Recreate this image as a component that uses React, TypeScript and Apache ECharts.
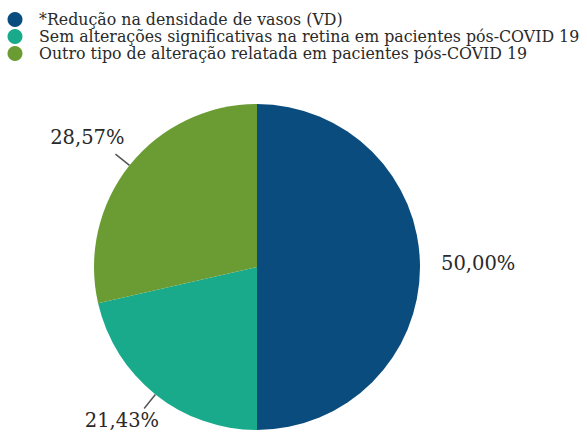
import React, { useEffect, useRef } from "react";
import * as echarts from "echarts";

const categories = [
  "*Redução na densidade de vasos (VD)",
  "Sem alterações significativas na retina em pacientes pós-COVID 19",
  "Outro tipo de alteração relatada em pacientes pós-COVID 19",
];
const values = [50.0, 21.43, 28.57];
const labels = ["50,00%", "21,43%", "28,57%"];
const colors = ["#0b4c7f", "#19a98b", "#6a9c33"];

// per-label layout tweaks (style only): spacer above / below text, gap to line end
const labelStyle = [
  { line: false, distance: 3, above: 0, below: 8 },
  { line: true, distance: -15, above: 24, below: 0 },
  { line: true, distance: -9, above: 0, below: 34 },
];

export default function App() {
  const ref = useRef<HTMLDivElement>(null);
  useEffect(() => {
    document.body.style.margin = "0";
    const chart = echarts.init(ref.current!, null, { renderer: "svg" });
    const font = "DejaVu Serif";
    const fmt = (i: number) => {
      const s = labelStyle[i];
      let out = "{t|" + labels[i] + "}";
      if (s.above) out = "{a| }\n" + out;
      if (s.below) out = out + "\n{b| }";
      return out;
    };
    chart.setOption({
      animation: false,
      backgroundColor: "#ffffff",
      color: colors,
      legend: {
        orient: "vertical",
        left: 7.5,
        top: 11.5,
        padding: 0,
        icon: "circle",
        itemWidth: 15,
        itemHeight: 15,
        itemGap: 1,
        selectedMode: false,
        data: categories,
        textStyle: {
          fontFamily: font,
          fontSize: 15.8,
          lineHeight: 16,
          color: "#2a2a2a",
          padding: [0, 0, 0, 11.5],
        },
      },
      series: [
        {
          type: "pie",
          center: [257, 267],
          radius: 163,
          startAngle: 90,
          clockwise: true,
          data: categories.map((name, i) => {
            const s = labelStyle[i];
            return {
              name,
              value: values[i],
              label: {
                formatter: fmt(i),
                distanceToLabelLine: s.distance,
                rich: {
                  t: { fontFamily: font, fontSize: 19.5, lineHeight: 20, color: "#2a2a2a" },
                  a: { fontSize: 2, lineHeight: s.above || 1 },
                  b: { fontSize: 2, lineHeight: s.below || 1 },
                },
              },
              labelLine: { show: s.line },
            };
          }),
          label: {
            show: true,
            position: "outside",
            fontFamily: font,
            fontSize: 19.5,
            color: "#2a2a2a",
          },
          labelLine: {
            show: true,
            length: 18,
            length2: 0,
            lineStyle: { color: "#555555", width: 1.5 },
          },
          emphasis: { disabled: true },
        },
      ],
    });
    return () => chart.dispose();
  }, []);
  return <div ref={ref} style={{ width: 587, height: 432 }} />;
}
